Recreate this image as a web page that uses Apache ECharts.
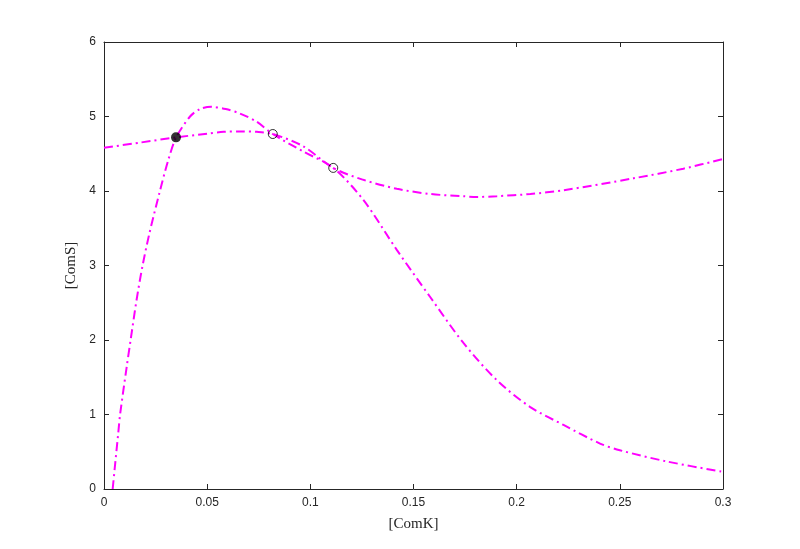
<!DOCTYPE html>
<html>
<head>
<meta charset="utf-8">
<script src="https://cdn.jsdelivr.net/npm/echarts@6/dist/echarts.min.js"></script>
<style>html,body{margin:0;padding:0;background:#fff}#c{width:800px;height:549px}</style>
</head>
<body>
<div id="c"></div>
<script>
// Curve 1 (flat nullcline)
const curve1X = [0, 0.0175, 0.035, 0.05, 0.058, 0.067, 0.074, 0.0818, 0.0966, 0.1111, 0.1257, 0.1419, 0.158, 0.1742, 0.1806, 0.1904, 0.2066, 0.2227, 0.2566, 0.2808, 0.3];
const curve1Y = [4.58, 4.65, 4.72, 4.77, 4.795, 4.80, 4.795, 4.765, 4.60, 4.31, 4.15, 4.03, 3.96, 3.93, 3.92, 3.93, 3.96, 4.01, 4.17, 4.30, 4.43];
// Curve 2 (humped nullcline)
const curve2X = [0.0042, 0.0069, 0.0078, 0.011, 0.0129, 0.0158, 0.0187, 0.022, 0.0271, 0.0312, 0.035, 0.0417, 0.0465, 0.052, 0.0590, 0.0659, 0.074, 0.0818, 0.0966, 0.1111, 0.1257, 0.1419, 0.158, 0.1742, 0.1904, 0.2066, 0.2227, 0.2404, 0.25, 0.2727, 0.3];
const curve2Y = [0, 0.75, 1.0, 1.64, 2.0, 2.54, 3.0, 3.43, 4.0, 4.42, 4.72, 5.0, 5.10, 5.13, 5.10, 5.04, 4.93, 4.765, 4.53, 4.31, 3.88, 3.21, 2.58, 1.96, 1.46, 1.10, 0.86, 0.61, 0.52, 0.37, 0.23];
// Equilibria
const stableX = [0.0349];
const stableY = [4.72];
const unstableX = [0.0818, 0.1111];
const unstableY = [4.765, 4.31];
// Ticks
const xTicks = [0, 0.05, 0.1, 0.15, 0.2, 0.25, 0.3];
const yTicks = [0, 1, 2, 3, 4, 5, 6];

const zip = (a, b) => a.map((v, i) => [v, b[i]]);
const axisColor = '#262626';
const dashDot = [9, 4, 2, 4];

const chart = echarts.init(document.getElementById('c'));
const baseX = {
  type: 'value', min: xTicks[0], max: xTicks[xTicks.length - 1], interval: 0.05,
  axisLine: { show: true, onZero: false, lineStyle: { color: axisColor, width: 1 } },
  axisTick: { show: true, inside: true, length: 5, lineStyle: { color: axisColor } },
  splitLine: { show: false }
};
const baseY = {
  type: 'value', min: yTicks[0], max: yTicks[yTicks.length - 1], interval: 1,
  axisLine: { show: true, onZero: false, lineStyle: { color: axisColor, width: 1 } },
  axisTick: { show: true, inside: true, length: 5, lineStyle: { color: axisColor } },
  splitLine: { show: false }
};
chart.setOption({
  animation: false,
  backgroundColor: '#ffffff',
  grid: { left: 104, right: 77, top: 42, bottom: 60 },
  xAxis: [
    Object.assign({}, baseX, {
      position: 'bottom',
      name: '[ComK]', nameLocation: 'middle', nameGap: 28,
      nameTextStyle: { fontFamily: 'Liberation Serif', fontSize: 15, color: axisColor },
      axisLabel: { color: axisColor, fontFamily: 'Liberation Sans', fontSize: 12, margin: 8,
        formatter: v => String(+v.toFixed(2)) }
    }),
    Object.assign({}, baseX, { position: 'top', axisLabel: { show: false } })
  ],
  yAxis: [
    Object.assign({}, baseY, {
      position: 'left',
      name: '[ComS]', nameLocation: 'middle', nameGap: 21,
      nameTextStyle: { fontFamily: 'Liberation Serif', fontSize: 15, color: axisColor },
      axisLabel: { color: axisColor, fontFamily: 'Liberation Sans', fontSize: 12, margin: 8 }
    }),
    Object.assign({}, baseY, { position: 'right', axisLabel: { show: false } })
  ],
  series: [
    {
      type: 'line', data: zip(curve1X, curve1Y), smooth: 0.3,
      showSymbol: false, lineStyle: { color: '#ff00ff', width: 2, type: dashDot }, z: 2
    },
    {
      type: 'line', data: zip(curve2X, curve2Y), smooth: 0.3,
      showSymbol: false, lineStyle: { color: '#ff00ff', width: 2, type: dashDot }, z: 2
    },
    {
      type: 'scatter', data: zip(stableX, stableY), symbol: 'circle', symbolSize: 10,
      itemStyle: { color: '#000000' }, z: 5
    },
    {
      type: 'scatter', data: zip(unstableX, unstableY), symbol: 'circle', symbolSize: 9,
      itemStyle: { color: 'rgba(0,0,0,0)', borderColor: '#000000', borderWidth: 1 }, z: 5
    }
  ]
});
</script>
</body>
</html>
